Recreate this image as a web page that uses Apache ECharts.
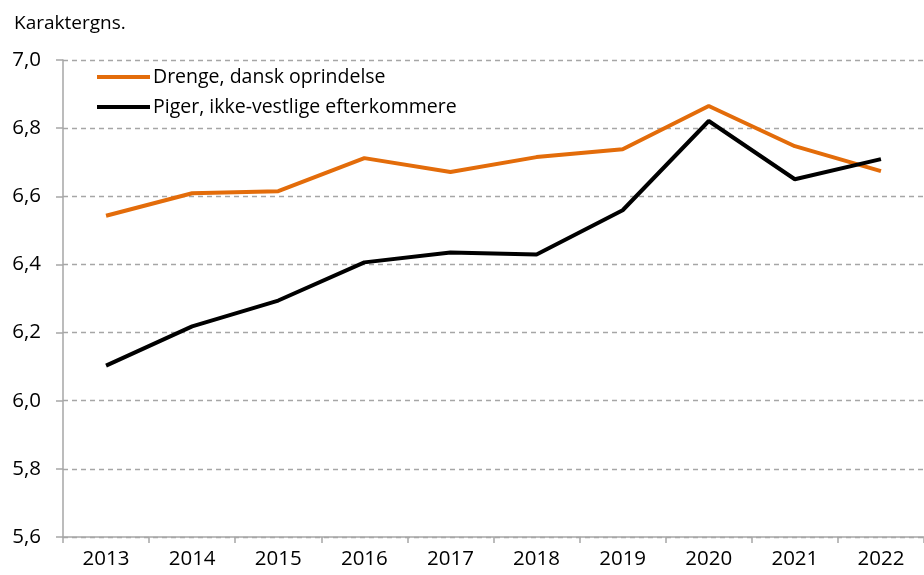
<!DOCTYPE html>
<html>
<head>
<meta charset="utf-8">
<script src="https://cdn.jsdelivr.net/npm/echarts@6/dist/echarts.min.js"></script>
<style>
  html, body { margin: 0; padding: 0; background: #fff; }
  #main { width: 924px; height: 575px; }
</style>
</head>
<body>
<div id="main"></div>
<script>
// data
var years = ['2013', '2014', '2015', '2016', '2017', '2018', '2019', '2020', '2021', '2022'];
var drenge = [6.543, 6.609, 6.615, 6.712, 6.671, 6.715, 6.738, 6.865, 6.747, 6.674];
var piger = [6.103, 6.218, 6.294, 6.406, 6.435, 6.429, 6.559, 6.821, 6.650, 6.709];
var seriesNames = ['Drenge, dansk oprindelse', 'Piger, ikke-vestlige efterkommere'];

var chart = echarts.init(document.getElementById('main'), null, { renderer: 'canvas' });
var font = '"Open Sans", sans-serif';

var option = {
  backgroundColor: '#fff',
  animation: false,
  title: {
    text: 'Karaktergns.',
    left: 14,
    top: 14,
    padding: 0,
    textStyle: { fontFamily: font, fontSize: 19, fontWeight: 'normal', color: '#000' }
  },
  legend: {
    orient: 'vertical',
    left: 97,
    top: 64,
    padding: 0,
    itemWidth: 53,
    itemHeight: 4,
    itemGap: 4,
    icon: 'rect',
    textStyle: { fontFamily: font, fontSize: 19.5, color: '#000', padding: [0, 0, 0, -2], lineHeight: 26 },
    data: seriesNames
  },
  grid: { left: 63, right: -3, top: 60, bottom: 38, containLabel: false },
  xAxis: {
    type: 'category',
    data: years,
    boundaryGap: true,
    axisLine: { lineStyle: { color: '#a6a6a6', width: 1.5 } },
    axisTick: { show: true, length: 6, lineStyle: { color: '#a6a6a6', width: 1.5 } },
    axisLabel: { fontFamily: font, fontSize: 20.5, color: '#000', margin: 12 }
  },
  yAxis: {
    type: 'value',
    min: 5.6,
    max: 7.0,
    interval: 0.2,
    axisLine: { show: true, lineStyle: { color: '#a6a6a6', width: 1.5 } },
    axisTick: { show: true, inside: false, length: 7, lineStyle: { color: '#a6a6a6', width: 1.5 } },
    splitLine: { show: true, lineStyle: { color: '#a6a6a6', type: [5, 4], width: 1.3 } },
    axisLabel: {
      fontFamily: font, fontSize: 20.5, color: '#000', margin: 22,
      formatter: function (v) { return v.toFixed(1).replace('.', ','); }
    }
  },
  series: [
    {
      name: seriesNames[0],
      type: 'line',
      data: drenge,
      symbol: 'none',
      lineStyle: { color: '#e36c0a', width: 4 },
      itemStyle: { color: '#e36c0a' }
    },
    {
      name: seriesNames[1],
      type: 'line',
      data: piger,
      symbol: 'none',
      lineStyle: { color: '#000', width: 4 },
      itemStyle: { color: '#000' }
    }
  ]
};

chart.setOption(option);
</script>
</body>
</html>
